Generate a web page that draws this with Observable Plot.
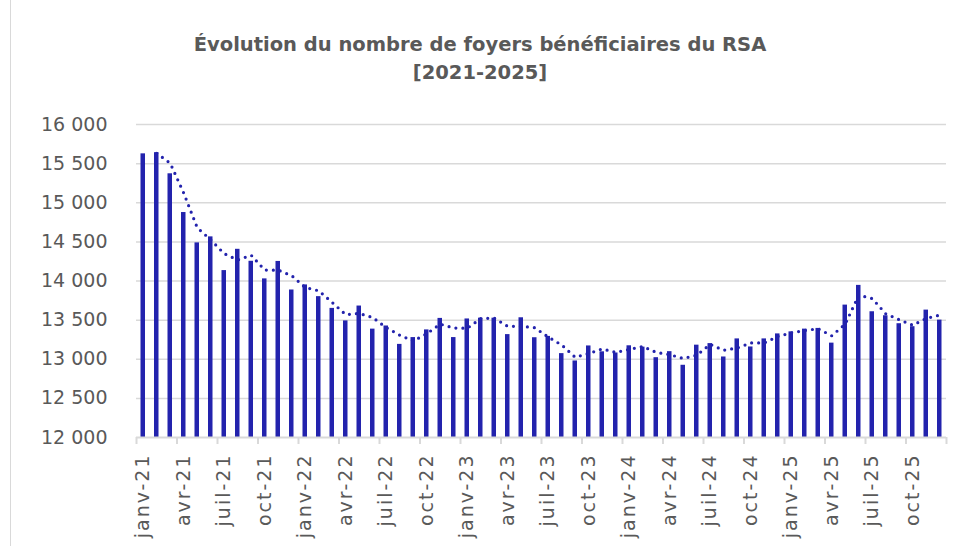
<!DOCTYPE html>
<html>
<head>
<meta charset="utf-8">
<script src="https://cdn.jsdelivr.net/npm/d3@7"></script>
<script src="https://cdn.jsdelivr.net/npm/@observablehq/plot@0.6"></script>
<style>
  html, body { margin: 0; padding: 0; background: #fff; }
  #wrap { position: relative; width: 960px; height: 546px; overflow: hidden; font-family: "DejaVu Sans", sans-serif; }
  #frame { position: absolute; left: 10px; top: 0; width: 0; height: 546px; border-left: 1.5px solid #d9d9d9; }
  #title { height: 100px; box-sizing: border-box; padding-top: 31px; text-align: center; font-weight: bold; font-size: 19.5px; line-height: 28px; color: #595959; }
  g[aria-label="x-axis tick label"] text { letter-spacing: 2px; }
</style>
</head>
<body>
<div id="wrap">
  <div id="frame"></div>
  <div id="title">Évolution du nombre de foyers bénéficiaires du RSA<br>[2021-2025]</div>
  <div id="chart"></div>
</div>
<script>
const years = ["21", "22", "23", "24", "25"];
const monthNames = ["janv", "févr", "mars", "avr", "mai", "juin", "juil", "août", "sept", "oct", "nov", "déc"];
const labels = years.flatMap(y => monthNames.map(m => `${m}-${y}`));
const shownMonths = ["janv", "avr", "juil", "oct"];

const values = [
  15625, 15640, 15370, 14875, 14487, 14564, 14133, 14405, 14252, 14027, 14250, 13885,
  13950, 13800, 13650, 13490, 13680, 13385, 13425, 13190, 13277, 13375, 13522, 13277,
  13515, 13525, 13525, 13315, 13530, 13275, 13292, 13072, 12978, 13170, 13095, 13080,
  13172, 13155, 13020, 13097, 12923, 13180, 13200, 13029, 13260, 13157, 13260, 13324,
  13350, 13385, 13394, 13206, 13692, 13944, 13607, 13556, 13454, 13416, 13628, 13500
];
const yTicks = [12000, 12500, 13000, 13500, 14000, 14500, 15000, 15500, 16000];
const yMin = 12000, yMax = 16000;

const data = labels.map((label, i) => ({label, value: values[i]}));
const tickLabels = labels.filter(l => shownMonths.includes(l.split("-")[0]));

const W = 960, H = 446, mL = 136, mR = 14, mT = 24, mB = 109;
const bw = (W - mL - mR) / labels.length;
const barColor = "#2323AD";
const grey = "#d9d9d9";
const fmt = d => d3.format(",")(d).replace(",", " ");

const chart = Plot.plot({
  width: W, height: H,
  marginLeft: mL, marginRight: mR, marginTop: mT, marginBottom: mB,
  style: {fontFamily: "DejaVu Sans, sans-serif", fontSize: "19px", color: "#595959", background: "white", overflow: "visible"},
  x: {type: "band", domain: labels, padding: 0, round: false, axis: null},
  y: {domain: [yMin, yMax], axis: null},
  marks: [
    Plot.ruleY(yTicks.slice(1), {stroke: grey, strokeWidth: 1.5}),
    Plot.axisY({ticks: yTicks, tickSize: 0, tickPadding: 29, tickFormat: fmt, fontSize: 19, fill: "#595959", label: null}),
    Plot.barY(data, {x: "label", y1: yMin, y2: "value", fill: barColor, insetLeft: 4.5, insetRight: 4.5}),
    Plot.ruleY([yMin], {stroke: grey, strokeWidth: 2}),
    Plot.lineY(data, Plot.windowY({k: 2, anchor: "end", strict: true}, {
      x: "label", y: "value", stroke: barColor, strokeWidth: 3.2,
      strokeDasharray: "0 7", strokeLinecap: "round"
    })),
    Plot.axisX({ticks: tickLabels, tickSize: 7, dx: -bw / 2, tickFormat: () => "", stroke: grey, strokeWidth: 2, label: null}),
    Plot.axisX({ticks: [labels[labels.length - 1]], tickSize: 7, dx: bw / 2, tickFormat: () => "", stroke: grey, strokeWidth: 2, label: null}),
    Plot.axisX({ticks: tickLabels, tickSize: 0, tickRotate: -90, tickPadding: 16, fontSize: 19, fill: "#595959", label: null})
  ]
});
document.getElementById("chart").appendChild(chart);
</script>
</body>
</html>
